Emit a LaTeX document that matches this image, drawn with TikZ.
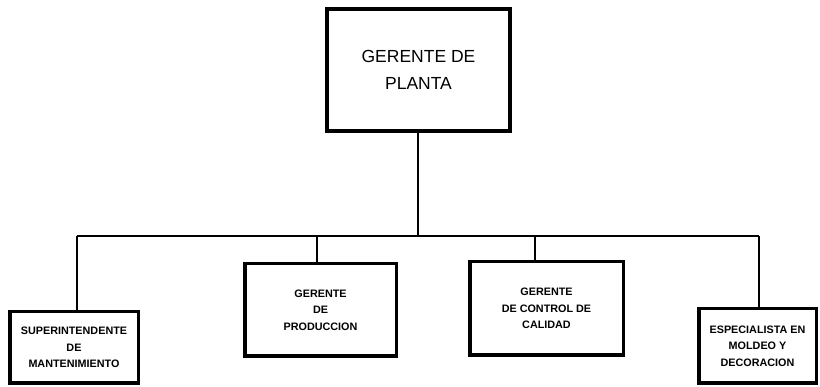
\documentclass[tikz,border=0pt]{standalone}
\usepackage{fontspec}
\setmainfont{Liberation Sans}
\usetikzlibrary{positioning,calc}

\begin{document}
\begin{tikzpicture}[x=1pt, y=-1pt,
    puesto/.style={rectangle, draw, line width=3.5pt, inner sep=0pt, align=center,
        font=\bfseries\fontsize{10.8}{16.5}\selectfont},
    jefe/.style={puesto, line width=4pt, font=\fontsize{17.5}{27}\selectfont},
    linea/.style={line width=1.8pt}]

    \useasboundingbox (0,0) rectangle (820,387);

    \node[jefe, minimum width=183pt, minimum height=122pt] (planta) at (418.5,70) {GERENTE DE\\PLANTA};
    \node[puesto, minimum width=128.5pt, minimum height=71.5pt] (mant) at (74,347.5) {SUPERINTENDENTE\\DE\\MANTENIMIENTO};
    \node[puesto, minimum width=151.5pt, minimum height=92.5pt] (prod) at (320.5,310) {GERENTE\\DE\\PRODUCCION};
    \node[puesto, minimum width=153.5pt, minimum height=93.5pt] (calidad) at (546.5,308.5) {GERENTE\\DE CONTROL DE\\CALIDAD};
    \node[puesto, minimum width=117.5pt, minimum height=74.5pt] (moldeo) at (757.5,346) {ESPECIALISTA EN\\MOLDEO Y\\DECORACION};

    % barra horizontal
    \coordinate (bus) at (418,236);
    \coordinate (t1) at (77,236);
    \coordinate (t2) at (317,236);
    \coordinate (t3) at (535,236);
    \coordinate (t4) at (759,236);

    \draw[linea] (planta.south -| bus) -- (bus);
    \draw[linea] (t1) -- (t4);
    \draw[linea] (t1) -- (t1 |- mant.north);
    \draw[linea] (t2) -- (t2 |- prod.north);
    \draw[linea] (t3) -- (t3 |- calidad.north);
    \draw[linea] (t4) -- (t4 |- moldeo.north);
\end{tikzpicture}
\end{document}
